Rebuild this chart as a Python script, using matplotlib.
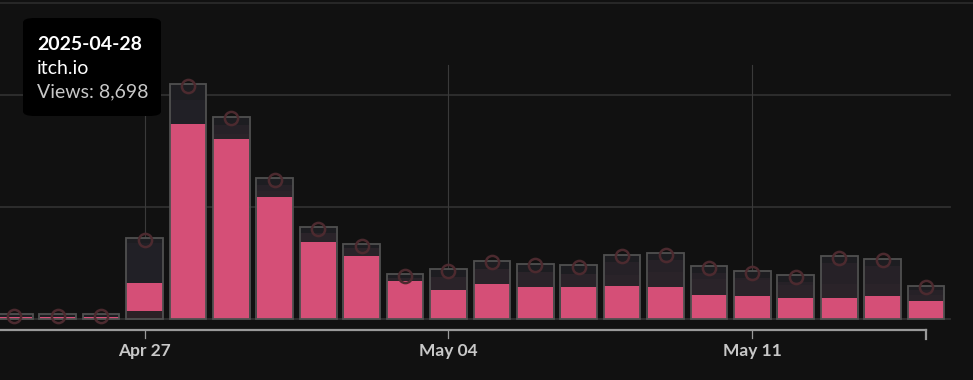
import numpy as np
import matplotlib.pyplot as plt
import matplotlib.transforms as mtransforms
from matplotlib.patches import FancyBboxPatch

# daily views by source, Apr 24 - May 15 2025
dates = ["2025-04-24", "2025-04-25", "2025-04-26", "2025-04-27", "2025-04-28",
         "2025-04-29", "2025-04-30", "2025-05-01", "2025-05-02", "2025-05-03",
         "2025-05-04", "2025-05-05", "2025-05-06", "2025-05-07", "2025-05-08",
         "2025-05-09", "2025-05-10", "2025-05-11", "2025-05-12", "2025-05-13",
         "2025-05-14", "2025-05-15"]
referral = [0, 0, 0, 357, 0, 0, 0, 0, 0, 0, 0, 0, 0, 0, 0, 0, 0, 0, 0, 0, 0, 0]
itch_io = [105, 105, 110, 1250, 8698, 8050, 5445, 3450, 2825, 1695, 1280,
           1560, 1415, 1415, 1473, 1415, 1070, 1027, 937, 937, 1027, 803]
direct = [0, 0, 0, 1785, 1085, 0, 0, 0, 0, 0, 0, 0, 0, 0, 0, 0, 0, 0, 0, 0, 0, 0]
search = [0, 0, 0, 0, 0, 210, 280, 375, 330, 135, 607, 670, 683, 607, 505,
          670, 714, 700, 580, 625, 522, 268]
social = [0, 0, 0, 0, 0, 400, 255, 0, 0, 0, 0, 0, 0, 0, 567, 550, 255, 116,
          147, 950, 830, 223]
other = [105, 100, 95, 210, 700, 370, 300, 268, 180, 165, 330, 370, 370, 375,
         326, 300, 312, 285, 285, 300, 300, 180]

tick_days = [3, 10, 17]
tick_labels = ["Apr 27", "May 04", "May 11"]
gridlines = [0, 5000, 10000]

series = [(referral, "#2c2126"), (itch_io, "#d54f77"), (direct, "#212026"),
          (search, "#2a2329"), (social, "#262127"), (other, "#1d1d21")]

bg = "#111111"
x = np.arange(len(dates))
totals = np.sum([s for s, _ in series], axis=0)

fig = plt.figure(figsize=(9.73, 3.8), dpi=100, facecolor=bg)
ax = fig.add_axes([0, 0, 1, 1])
ax.set_facecolor(bg)
ax.set_xlim(-0.328, 22.08)
ax.set_ylim(-2723, 14240)
ax.axis("off")

# frame line at top and horizontal gridlines
ax.plot([0, 1], [0.992, 0.992], transform=ax.transAxes, color="#2c2c2c", lw=1.2)
for g in gridlines:
    ax.plot([-0.328, 21.55], [g, g], color="#2f2f2f", lw=1.3, zorder=1)

# vertical gridlines at ticks
for d in tick_days:
    ax.plot([d, d], [0, 11350], color="#3a3a3a", lw=0.8, zorder=1)

# stacked bars
bottom = np.zeros(len(dates))
for vals, col in series:
    vals = np.array(vals)
    ax.bar(x, vals, width=0.83, bottom=bottom, color=col, lw=0, zorder=2)
    bottom += vals
ax.bar(x, totals, width=0.845, facecolor="none", edgecolor="#505050",
       lw=1.3, zorder=3)

# total markers, sitting a couple of pixels below the bar top
shift = ax.transData + mtransforms.ScaledTranslation(0, -1.5 / 100, fig.dpi_scale_trans)
ax.plot(x, totals, "o", ms=9.5, mfc="none", mec="#4c2a2f", mew=1.8,
        zorder=4, transform=shift)

# x axis
axis_y = -490
ax.plot([-0.4, x[-1]], [axis_y, axis_y], color="#9a9a9a", lw=1.6, zorder=3)
ax.plot([x[-1], x[-1]], [axis_y, axis_y - 400], color="#9a9a9a", lw=1.6)
for d, lab in zip(tick_days, tick_labels):
    ax.plot([d, d], [axis_y, axis_y - 380], color="#9a9a9a", lw=0.9)
    ax.text(d, -1420, lab, ha="center", va="center", color="#c8c8c8",
            fontsize=12.5, family="Lato", fontweight="bold")

# tooltip
tip = FancyBboxPatch((23 / 973, 1 - 116 / 380), 138 / 973, 98 / 380,
                     boxstyle="round,pad=0,rounding_size=0.012",
                     transform=ax.transAxes, facecolor="black",
                     edgecolor="none", zorder=10)
ax.add_patch(tip)
tx = 37 / 973
ax.text(tx, 1 - 44 / 380, "2025-04-28", transform=ax.transAxes, va="center",
        color="white", fontsize=14, family="Lato", fontweight="bold", zorder=11)
ax.text(tx, 1 - 68 / 380, "itch.io", transform=ax.transAxes, va="center",
        color="white", fontsize=14, family="Lato", zorder=11)
ax.text(tx, 1 - 92 / 380, "Views: 8,698", transform=ax.transAxes,
        va="center", color="#c8c8c8", fontsize=14, family="Lato", zorder=11)

fig.savefig("out.png", dpi=100, facecolor=bg)
